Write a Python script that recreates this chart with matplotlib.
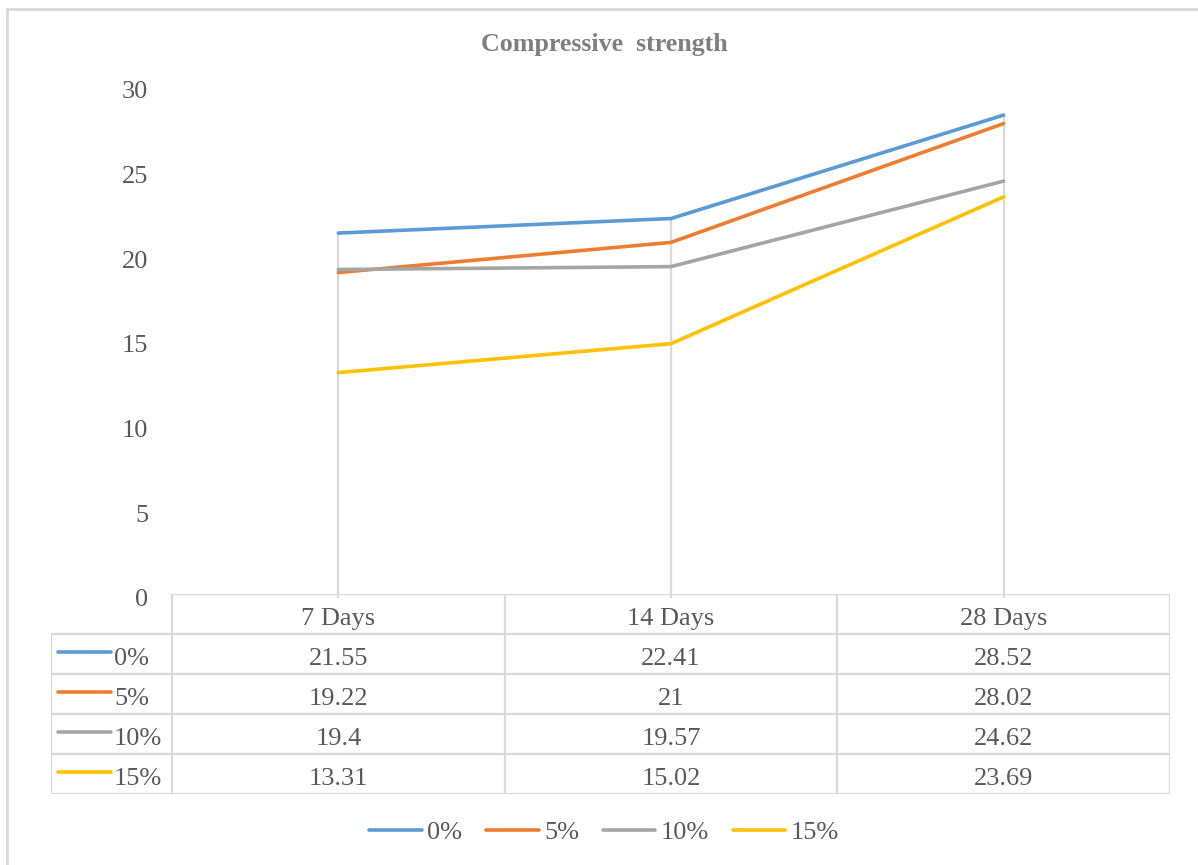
import numpy as np
import matplotlib.pyplot as plt
from matplotlib.lines import Line2D
from matplotlib.patches import Rectangle

# Compressive strength by curing age for each replacement level
ages = ["7 Days", "14 Days", "28 Days"]
series_names = ["0%", "5%", "10%", "15%"]
strength_0 = [21.55, 22.41, 28.52]
strength_5 = [19.22, 21, 28.02]
strength_10 = [19.4, 19.57, 24.62]
strength_15 = [13.31, 15.02, 23.69]
y_ticks = [0, 5, 10, 15, 20, 25, 30]

series = [strength_0, strength_5, strength_10, strength_15]
colors = ["#5B9BD5", "#ED7D31", "#A5A5A5", "#FFC000"]

plt.rcParams['font.family'] = ['Liberation Serif', 'DejaVu Serif']
TXT = "#595959"
GRID = "#D9D9D9"
FS = 19

W, H = 1198, 865
fig = plt.figure(figsize=(W / 100, H / 100), dpi=100)

def px(x0, y0, x1, y1):
    # pixel box (top-left origin) -> figure fraction rect
    return [x0 / W, 1 - y1 / H, (x1 - x0) / W, (y1 - y0) / H]

# outer chart border
fig.add_artist(Rectangle((7 / W, -0.05), 1.2, 1 - 9 / H + 0.05,
                         transform=fig.transFigure, fill=False,
                         edgecolor=GRID, linewidth=2))

ax = fig.add_axes(px(172, 90, 1170, 598))
xs = np.arange(len(ages)) + 0.5
ax.set_xlim(0, len(ages))
ax.set_ylim(0, 30)

# drop lines from the highest series down to the axis
tops = np.max(np.array(series), axis=0)
ax.vlines(xs, 0, tops, color=GRID, linewidth=1.6, zorder=1)

for vals, c in zip(series, colors):
    ax.plot(xs, vals, color=c, linewidth=2.6, solid_capstyle='round', zorder=3)

for s in ax.spines.values():
    s.set_visible(False)
ax.set_xticks([])
ax.set_yticks(y_ticks)
ax.tick_params(axis='y', length=0, pad=17, labelsize=FS, labelcolor=TXT)

fig.text(604 / W, 1 - 45 / H, "Compressive  strength", ha='center', va='center',
         fontsize=18.7, fontweight='bold', color="#7F7F7F")

# data table under the plot
tab = fig.add_axes(px(51, 594, 1170, 794))
left = -(172 - 51) / (998 / 3)
tab.set_xlim(left, 3)
tab.set_ylim(5, 0)
tab.axis('off')
lw = 1.6
# header row
tab.plot([0, 3], [0, 0], color=GRID, lw=lw)
for k in range(len(ages) + 1):
    tab.plot([k, k], [0, 5], color=GRID, lw=lw)
for r in range(1, 6):
    tab.plot([left, 3], [r, r], color=GRID, lw=lw)
tab.plot([left, left], [1, 5], color=GRID, lw=lw)

for k, a in enumerate(ages):
    tab.text(k + 0.5, 0.62, a, ha='center', va='center', fontsize=FS, color=TXT)

key_x0 = left + (58 - 51) / (998 / 3)
key_x1 = left + (111 - 51) / (998 / 3)
txt_x = left + (114 - 51) / (998 / 3)
for r, (name, vals, c) in enumerate(zip(series_names, series, colors)):
    yc = r + 1.5
    tab.plot([key_x0, key_x1], [yc - 0.05, yc - 0.05], color=c, lw=2.6,
             solid_capstyle='round')
    tab.text(txt_x, yc + 0.12, name, ha='left', va='center', fontsize=FS, color=TXT)
    for k, v in enumerate(vals):
        tab.text(k + 0.5, yc + 0.12, f"{v:g}", ha='center', va='center',
                 fontsize=FS, color=TXT)

# bottom legend
handles = [Line2D([], [], color=c, lw=2.6, solid_capstyle='round') for c in colors]
leg = fig.legend(handles, series_names, loc='center', ncol=4,
                 bbox_to_anchor=(604 / W, 1 - 832 / H), frameon=False,
                 fontsize=FS, handlelength=2.0, handletextpad=0.2,
                 columnspacing=0.9)
for t in leg.get_texts():
    t.set_color(TXT)

fig.savefig("out.png", dpi=100)
